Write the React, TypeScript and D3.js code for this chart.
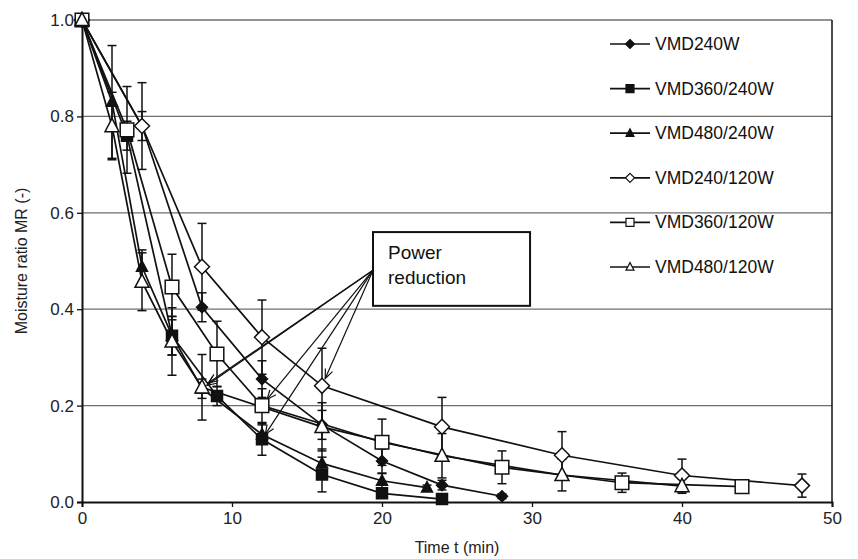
import React, { useEffect, useRef } from 'react';
import * as d3 from 'd3';

// drying curves, moisture ratio vs time
const t240 = [0, 4, 8, 12, 16, 20, 24, 28];
const mr240 = [1.0, 0.78, 0.404, 0.255, 0.16, 0.085, 0.035, 0.012];
const sd240 = [0, 0.03, 0.03, 0.038, 0.03, 0.025, 0.01, 0.005];

const t360_240 = [0, 3, 6, 9, 12, 16, 20, 24];
const mr360_240 = [1.0, 0.76, 0.345, 0.22, 0.13, 0.057, 0.018, 0.006];
const sd360_240 = [0, 0.03, 0.04, 0.02, 0.033, 0.036, 0.01, 0.005];

const t480_240 = [0, 2, 4, 6, 8, 12, 16, 20, 23];
const mr480_240 = [1.0, 0.83, 0.488, 0.345, 0.235, 0.14, 0.08, 0.044, 0.03];
const sd480_240 = [0, 0.117, 0.035, 0.04, 0.02, 0.02, 0.03, 0.015, 0.005];

const t240_120 = [0, 4, 8, 12, 16, 24, 32, 40, 48];
const mr240_120 = [1.0, 0.78, 0.488, 0.342, 0.241, 0.156, 0.097, 0.055, 0.034];
const sd240_120 = [0, 0.09, 0.09, 0.077, 0.078, 0.061, 0.049, 0.034, 0.024];

const t360_120 = [0, 3, 6, 9, 12, 20, 28, 36, 44];
const mr360_120 = [1.0, 0.772, 0.446, 0.307, 0.2, 0.124, 0.072, 0.04, 0.032];
const sd360_120 = [0, 0.09, 0.068, 0.068, 0.035, 0.048, 0.034, 0.02, 0.005];

const t480_120 = [0, 2, 4, 6, 8, 16, 24, 32, 40];
const mr480_120 = [1.0, 0.78, 0.457, 0.333, 0.238, 0.156, 0.096, 0.056, 0.033];
const sd480_120 = [0, 0.07, 0.06, 0.07, 0.068, 0.05, 0.046, 0.033, 0.015];

const seriesNames = ['VMD240W', 'VMD360/240W', 'VMD480/240W', 'VMD240/120W', 'VMD360/120W', 'VMD480/120W'];
const xTicks = [0, 10, 20, 30, 40, 50];
const yTicks = [0, 0.2, 0.4, 0.6, 0.8, 1.0];

// power reduction arrows: [series index, time]
const reductions: [number, number][] = [[3, 16], [4, 12], [1, 12], [5, 8], [2, 8]];

export default function App() {
  const ref = useRef<SVGSVGElement>(null);

  useEffect(() => {
    const svg = d3.select(ref.current);
    svg.selectAll('*').remove();

    const x = d3.scaleLinear().domain([0, 50]).range([82, 832]);
    const y = d3.scaleLinear().domain([0, 1]).range([502, 20]);
    const font = '"Liberation Sans", Arial, sans-serif';

    const series = [
      { name: seriesNames[0], t: t240, v: mr240, sd: sd240, shape: 'diamond', filled: true },
      { name: seriesNames[1], t: t360_240, v: mr360_240, sd: sd360_240, shape: 'square', filled: true },
      { name: seriesNames[2], t: t480_240, v: mr480_240, sd: sd480_240, shape: 'triangle', filled: true },
      { name: seriesNames[3], t: t240_120, v: mr240_120, sd: sd240_120, shape: 'diamond', filled: false },
      { name: seriesNames[4], t: t360_120, v: mr360_120, sd: sd360_120, shape: 'square', filled: false },
      { name: seriesNames[5], t: t480_120, v: mr480_120, sd: sd480_120, shape: 'triangle', filled: false },
    ];

    // marker path around 0,0
    const markerPath = (shape: string, r: number) => {
      if (shape === 'diamond') return `M0,${-r}L${r},0L0,${r}L${-r},0Z`;
      if (shape === 'square') return `M${-r},${-r}H${r}V${r}H${-r}Z`;
      return `M0,${-r * 1.1}L${r},${r * 0.8}L${-r},${r * 0.8}Z`;
    };

    // grid
    svg.append('g').selectAll('line').data(yTicks.filter(d => d > 0)).enter().append('line')
      .attr('x1', x(0)).attr('x2', x(50))
      .attr('y1', d => y(d)).attr('y2', d => y(d))
      .attr('stroke', '#6e6e6e').attr('stroke-width', 1.3);

    // frame
    svg.append('line').attr('x1', x(50)).attr('x2', x(50)).attr('y1', y(1)).attr('y2', y(0))
      .attr('stroke', '#111').attr('stroke-width', 1.5);

    // axes
    const xAxis = svg.append('g').attr('transform', `translate(0,${y(0)})`)
      .call(d3.axisBottom(x).tickValues(xTicks).tickSize(5).tickPadding(5).tickFormat(d3.format('d')));
    const yAxis = svg.append('g').attr('transform', `translate(${x(0)},0)`)
      .call(d3.axisLeft(y).tickValues(yTicks).tickSize(5).tickPadding(3).tickFormat(d3.format('.1f')));
    [xAxis, yAxis].forEach(a => {
      a.select('.domain').attr('stroke', '#111').attr('stroke-width', 2);
      a.selectAll('.tick line').attr('stroke', '#111').attr('stroke-width', 1.3);
      a.selectAll('text').attr('font-family', font).attr('font-size', 17).attr('fill', '#222');
    });

    svg.append('text').attr('x', x(25)).attr('y', 553).attr('text-anchor', 'middle')
      .attr('font-family', font).attr('font-size', 16).attr('fill', '#222').text('Time t (min)');
    svg.append('text').attr('transform', `translate(27,${y(0.5)}) rotate(-90)`).attr('text-anchor', 'middle')
      .attr('font-family', font).attr('font-size', 16).attr('fill', '#222').text('Moisture ratio MR (-)');

    const line = d3.line<[number, number]>().x(d => x(d[0])).y(d => y(d[1]));

    // lines
    series.forEach(s => {
      svg.append('path').datum(s.t.map((t, i) => [t, s.v[i]] as [number, number]))
        .attr('d', line).attr('fill', 'none').attr('stroke', '#111').attr('stroke-width', 1.7);
    });

    // annotation arrows
    const ax = x(19.4), ay = y(0.481);
    reductions.forEach(([si, t]) => {
      const s = series[si];
      const px = x(t), py = y(s.v[s.t.indexOf(t)]);
      const ang = Math.atan2(ay - py, ax - px);
      const off = s.filled ? 6 : 8;
      const tx = px + Math.cos(ang) * off, ty = py + Math.sin(ang) * off;
      svg.append('line').attr('x1', ax).attr('y1', ay).attr('x2', tx).attr('y2', ty)
        .attr('stroke', '#111').attr('stroke-width', 1.2);
      const hl = 10, ha = 0.4;
      svg.append('path')
        .attr('d', `M${tx + Math.cos(ang + ha) * hl},${ty + Math.sin(ang + ha) * hl}L${tx},${ty}L${tx + Math.cos(ang - ha) * hl},${ty + Math.sin(ang - ha) * hl}`)
        .attr('fill', 'none').attr('stroke', '#111').attr('stroke-width', 1.2);
    });

    // error bars
    series.forEach(s => {
      const g = svg.append('g').attr('stroke', '#111').attr('stroke-width', 1.5);
      s.t.forEach((t, i) => {
        if (!s.sd[i]) return;
        const cx = x(t), hi = y(s.v[i] + s.sd[i]), lo = y(s.v[i] - s.sd[i]);
        g.append('line').attr('x1', cx).attr('x2', cx).attr('y1', hi).attr('y2', lo);
        g.append('line').attr('x1', cx - 4.5).attr('x2', cx + 4.5).attr('y1', hi).attr('y2', hi);
        g.append('line').attr('x1', cx - 4.5).attr('x2', cx + 4.5).attr('y1', lo).attr('y2', lo);
      });
    });

    // markers
    series.forEach(s => {
      const r = s.filled ? 5.5 : (s.shape === 'diamond' ? 7.5 : s.shape === 'square' ? 6.8 : 7);
      svg.append('g').selectAll('path').data(s.t.map((t, i) => [t, s.v[i]])).enter().append('path')
        .attr('transform', d => `translate(${x(d[0])},${y(d[1])})`)
        .attr('d', markerPath(s.shape, r))
        .attr('fill', s.filled ? '#111' : '#fff')
        .attr('stroke', '#111').attr('stroke-width', 1.5);
    });

    // annotation box
    svg.append('rect').attr('x', ax).attr('y', y(0.56)).attr('width', x(29.87) - ax).attr('height', y(0.407) - y(0.56))
      .attr('fill', '#fff').attr('stroke', '#111').attr('stroke-width', 2);
    const note = svg.append('text').attr('font-family', font).attr('font-size', 19).attr('fill', '#111');
    note.append('tspan').attr('x', ax + 15).attr('y', y(0.56) + 27).text('Power');
    note.append('tspan').attr('x', ax + 15).attr('y', y(0.56) + 52).text('reduction');

    // legend
    const leg = svg.append('g');
    series.forEach((s, i) => {
      const ly = 44 + i * 44.6;
      leg.append('line').attr('x1', 610).attr('x2', 650).attr('y1', ly).attr('y2', ly)
        .attr('stroke', '#111').attr('stroke-width', 1.7);
      leg.append('path').attr('transform', `translate(630,${ly})`)
        .attr('d', markerPath(s.shape, s.shape === 'diamond' ? 4.5 : 4))
        .attr('fill', s.filled ? '#111' : '#fff').attr('stroke', '#111').attr('stroke-width', 1.2);
      leg.append('text').attr('x', 655).attr('y', ly + 6).attr('font-family', font)
        .attr('font-size', 17.5).attr('fill', '#111').text(s.name);
    });
  }, []);

  return (
    <svg ref={ref} width={858} height={559}
      style={{ position: 'absolute', left: 0, top: 0, background: '#fff' }} />
  );
}
